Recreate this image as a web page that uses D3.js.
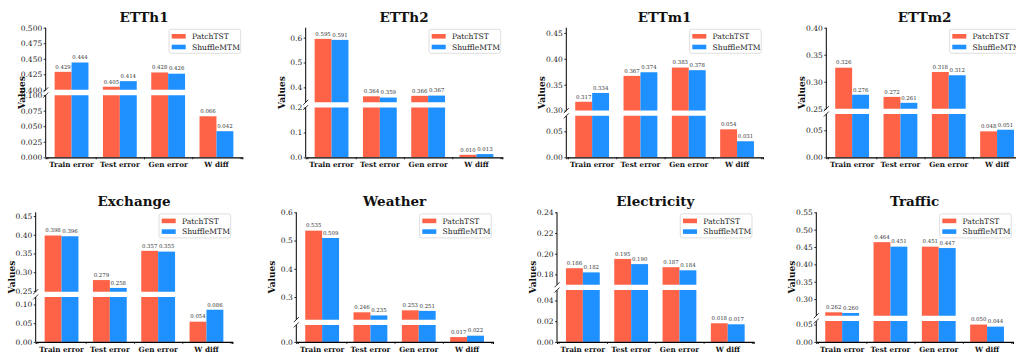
<!DOCTYPE html>
<html>
<head>
<meta charset="utf-8">
<script src="https://cdn.jsdelivr.net/npm/d3@7"></script>
<style>
  html, body { margin: 0; padding: 0; background: #fff; overflow: hidden; }
  svg { display: block; }
</style>
</head>
<body>
<svg id="chart" width="1016" height="355"></svg>
<script>
// data
const datasets = ['ETTh1', 'ETTh2', 'ETTm1', 'ETTm2', 'Exchange', 'Weather', 'Electricity', 'Traffic'];
const metrics = ['Train error', 'Test error', 'Gen error', 'W diff'];
const seriesNames = ['PatchTST', 'ShuffleMTM'];

const patchTST = [
  [0.429, 0.405, 0.428, 0.066],
  [0.595, 0.364, 0.366, 0.010],
  [0.317, 0.367, 0.383, 0.054],
  [0.326, 0.272, 0.318, 0.048],
  [0.398, 0.279, 0.357, 0.054],
  [0.535, 0.246, 0.253, 0.017],
  [0.186, 0.195, 0.187, 0.018],
  [0.262, 0.464, 0.451, 0.050]
];
const shuffleMTM = [
  [0.444, 0.414, 0.426, 0.042],
  [0.591, 0.359, 0.367, 0.013],
  [0.334, 0.374, 0.378, 0.031],
  [0.276, 0.261, 0.312, 0.051],
  [0.396, 0.258, 0.355, 0.086],
  [0.509, 0.235, 0.251, 0.022],
  [0.182, 0.190, 0.184, 0.017],
  [0.260, 0.451, 0.447, 0.044]
];

// broken y axis: lower and upper ranges per panel
const lowerLims = [[0, 0.1], [0, 0.2], [0, 0.08], [0, 0.08], [0, 0.12], [0, 0.06], [0, 0.05], [0, 0.06]];
const upperLims = [[0.4, 0.5], [0.34, 0.64], [0.3, 0.46], [0.25, 0.4], [0.248, 0.46], [0.22, 0.6], [0.17, 0.24], [0.252, 0.55]];
const lowerTicks = [
  [0, 0.025, 0.05, 0.075, 0.1],
  [0, 0.1, 0.2],
  [0, 0.05],
  [0, 0.05],
  [0, 0.05, 0.1],
  [0],
  [0, 0.02, 0.04],
  [0, 0.05]
];
const upperTicks = [
  [0.4, 0.425, 0.45, 0.475, 0.5],
  [0.4, 0.5, 0.6],
  [0.3, 0.35, 0.4, 0.45],
  [0.25, 0.3, 0.35, 0.4],
  [0.25, 0.3, 0.35, 0.4, 0.45],
  [0.3, 0.4, 0.5, 0.6],
  [0.18, 0.2, 0.22, 0.24],
  [0.3, 0.35, 0.4, 0.45, 0.5, 0.55]
];
const tickDecimals = [3, 1, 2, 2, 2, 1, 2, 2];

const colors = ['#ff6347', '#1e90ff'];

// layout
const axLeft = [[45.7, 305.7, 566.3, 826.3], [35.7, 296.3, 557, 816.3]];
const axTop = [27.7, 212.3];
const axW = 196.6, axH = 129.6, gap = 5.3;
const barW = 0.35;

const svg = d3.select('#chart');
const defs = svg.append('defs');

datasets.forEach((name, i) => {
  const row = Math.floor(i / 4), col = i % 4;
  const left = axLeft[row][col], top = axTop[row], bottom = top + axH;
  const lo = lowerLims[i], hi = upperLims[i];
  const k = (axH - gap) / ((lo[1] - lo[0]) + (hi[1] - hi[0]));
  const hHi = k * (hi[1] - hi[0]), hLo = k * (lo[1] - lo[0]);

  const x = d3.scaleLinear().domain([-0.535, 3.535]).range([left, left + axW]);
  const yHi = d3.scaleLinear().domain(hi).range([top + hHi, top]);
  const yLo = d3.scaleLinear().domain(lo).range([bottom, bottom - hLo]);
  const fmt = d3.format('.' + tickDecimals[i] + 'f');

  const g = svg.append('g');

  // clip regions for the two halves
  defs.append('clipPath').attr('id', 'hi' + i)
    .append('rect').attr('x', left).attr('y', top).attr('width', axW).attr('height', hHi);
  defs.append('clipPath').attr('id', 'lo' + i)
    .append('rect').attr('x', left).attr('y', bottom - hLo).attr('width', axW).attr('height', hLo);

  const series = [patchTST[i], shuffleMTM[i]];
  [['hi', yHi], ['lo', yLo]].forEach(([key, y]) => {
    const part = g.append('g').attr('clip-path', `url(#${key}${i})`);
    series.forEach((vals, s) => {
      part.selectAll(null)
        .data(vals)
        .enter()
        .append('rect')
        .attr('x', (d, j) => x(j + (s === 0 ? -barW : 0)))
        .attr('width', x(barW) - x(0))
        .attr('y', d => y(d))
        .attr('height', d => Math.max(0, y(lo[0]) - y(d)))
        .attr('fill', colors[s]);
    });
  });

  // value labels
  series.forEach((vals, s) => {
    g.selectAll(null)
      .data(vals)
      .enter()
      .append('text')
      .attr('x', (d, j) => x(j + (s === 0 ? -barW / 2 : barW / 2)))
      .attr('y', d => (d >= hi[0] ? yHi(d) : yLo(d)) - 3.2)
      .attr('text-anchor', 'middle')
      .style('font', '5.4px "DejaVu Serif"')
      .style('fill', '#333')
      .text(d => d3.format('.3f')(d));
  });

  // y axes
  const axHi = d3.axisLeft(yHi).tickValues(upperTicks[i]).tickFormat(fmt).tickSize(2).tickPadding(1.5);
  const axLo = d3.axisLeft(yLo).tickValues(lowerTicks[i]).tickFormat(fmt).tickSize(2).tickPadding(1.5);
  [[axHi, [top, top + hHi]], [axLo, [bottom - hLo, bottom]]].forEach(([ax, ext]) => {
    const a = g.append('g').attr('transform', `translate(${left},0)`).call(ax);
    a.select('.domain').remove();
    a.append('line').attr('x1', 0).attr('x2', 0).attr('y1', ext[0]).attr('y2', ext[1])
      .attr('stroke', '#000').attr('stroke-width', 1);
    a.selectAll('text').style('font', '7.5px "DejaVu Serif"').style('fill', '#222');
    a.selectAll('.tick line').attr('stroke', '#000').attr('stroke-width', 0.8);
  });

  // break marks
  [top + hHi, bottom - hLo].forEach(yy => {
    g.append('line')
      .attr('x1', left - 2.5).attr('y1', yy + 2.5)
      .attr('x2', left + 2.5).attr('y2', yy - 2.5)
      .attr('stroke', '#000').attr('stroke-width', 0.8);
  });

  // x axis
  const xa = g.append('g').attr('transform', `translate(0,${bottom})`)
    .call(d3.axisBottom(x).tickValues([-0.5, 0.5, 1.5, 2.5, 3.5]).tickFormat('').tickSize(2));
  xa.select('.domain').attr('stroke', '#000').attr('stroke-width', 1.2);
  xa.selectAll('.tick line').attr('stroke', '#000').attr('stroke-width', 0.8);

  g.selectAll(null)
    .data(metrics)
    .enter()
    .append('text')
    .attr('x', (d, j) => x(j))
    .attr('y', bottom + 9.7)
    .attr('text-anchor', 'middle')
    .style('font', 'bold 7.2px "DejaVu Serif"')
    .style('fill', '#111')
    .text(d => d);

  // y label
  g.append('text')
    .attr('transform', `translate(${left - 24},${top + axH / 2}) rotate(-90)`)
    .attr('text-anchor', 'middle')
    .attr('dy', '0.35em')
    .style('font', 'bold 9px "DejaVu Serif"')
    .style('fill', '#111')
    .text('Values');

  // title
  g.append('text')
    .attr('x', left + axW / 2)
    .attr('y', top - 6)
    .attr('text-anchor', 'middle')
    .style('font', 'bold 13.5px "DejaVu Serif"')
    .style('fill', '#111')
    .text(name);

  // legend
  const lgW = 71.7, lgH = 24;
  const lg = g.append('g').attr('transform', `translate(${left + axW - 1.6 - lgW},${top + 1.6})`);
  lg.append('rect').attr('width', lgW).attr('height', lgH).attr('rx', 2)
    .attr('fill', '#fff').attr('fill-opacity', 0.8).attr('stroke', '#d6d6d6').attr('stroke-width', 0.8);
  seriesNames.forEach((s, j) => {
    const cy = 7 + j * 10.7;
    lg.append('rect').attr('x', 2.7).attr('y', cy - 2.3).attr('width', 14).attr('height', 4.6).attr('fill', colors[j]);
    lg.append('text').attr('x', 23).attr('y', cy).attr('dy', '0.35em')
      .style('font', '7.6px "DejaVu Serif"').style('fill', '#222').text(s);
  });
});
</script>
</body>
</html>
